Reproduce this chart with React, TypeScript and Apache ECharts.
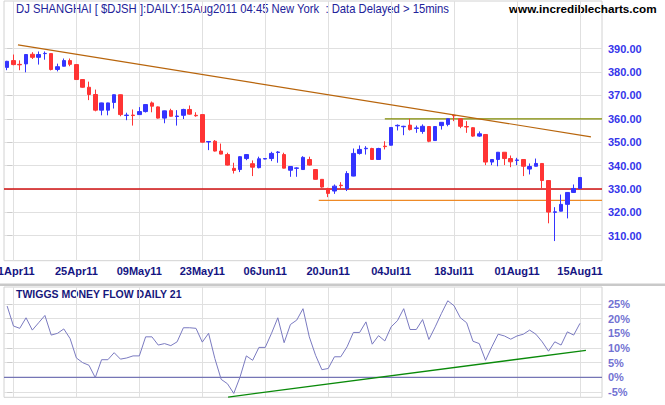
import React, { useEffect, useRef } from 'react';
import * as echarts from 'echarts';

const MONTHS = ['Jan', 'Feb', 'Mar', 'Apr', 'May', 'Jun', 'Jul', 'Aug', 'Sep', 'Oct', 'Nov', 'Dec'];

// Weekday calendar from 8 Apr 2011 to 15 Aug 2011
function tradingDays(): string[] {
  const out: string[] = [];
  const d = new Date(Date.UTC(2011, 3, 8));
  const end = Date.UTC(2011, 7, 15);
  while (d.getTime() <= end) {
    const wd = d.getUTCDay();
    if (wd !== 0 && wd !== 6) {
      const dd = String(d.getUTCDate()).padStart(2, '0');
      out.push(dd + MONTHS[d.getUTCMonth()] + '11');
    }
    d.setUTCDate(d.getUTCDate() + 1);
  }
  return out;
}

const dateLabels = tradingDays();
const categories = [...dateLabels, '', '', ''];
const labelIdx = [1, 11, 21, 31, 41, 51, 61, 71, 81, 91];
const priceTicks = [310, 320, 330, 340, 350, 360, 370, 380, 390];
const tmfTicks = [-5, 0, 5, 10, 15, 20, 25];

// [open, close, low, high]
const candles: number[][] = [
  [382.0, 384.6, 380.8, 384.8], [384.9, 383.2, 382.9, 387.5], [383.3, 383.1, 380.8, 385.0],
  [383.5, 387.5, 379.9, 387.7], [387.6, 386.3, 385.6, 388.5], [386.3, 387.5, 383.2, 388.8],
  [387.9, 388.0, 385.3, 388.8], [387.9, 381.1, 380.7, 388.0], [381.1, 382.3, 380.3, 383.6],
  [382.5, 384.9, 382.4, 385.8], [384.9, 383.3, 382.5, 385.8], [383.2, 376.8, 376.6, 383.3],
  [376.8, 373.5, 373.3, 377.0], [373.5, 370.4, 368.0, 375.9], [370.4, 363.7, 363.2, 372.5],
  [363.7, 366.8, 361.5, 366.9], [363.7, 366.8, 361.5, 366.9], [367.0, 370.3, 364.4, 370.4],
  [370.3, 361.8, 361.1, 370.4], [361.4, 361.6, 359.4, 362.6], [361.6, 361.4, 357.1, 364.0],
  [361.8, 363.1, 361.7, 365.0], [363.1, 366.1, 362.7, 366.2], [366.8, 365.4, 362.8, 367.4],
  [365.1, 360.3, 360.1, 365.3], [360.3, 363.4, 358.1, 363.5], [363.5, 361.1, 360.9, 364.3],
  [361.0, 361.2, 357.1, 363.7], [361.5, 364.0, 359.9, 364.3], [364.0, 362.0, 361.8, 365.7],
  [361.5, 361.3, 360.9, 362.8], [361.8, 350.0, 349.8, 362.0], [350.1, 350.3, 346.6, 350.4],
  [350.4, 346.2, 346.0, 350.9], [346.2, 344.9, 344.8, 349.4], [344.7, 340.2, 340.0, 345.5],
  [338.8, 337.9, 336.6, 341.2], [338.3, 343.8, 337.2, 344.0], [343.0, 344.7, 342.3, 344.9],
  [340.8, 339.3, 335.5, 342.2], [339.1, 342.9, 338.8, 343.8], [342.8, 343.0, 342.7, 343.2],
  [343.0, 345.2, 341.9, 345.9], [345.6, 345.8, 341.2, 346.2], [344.7, 338.9, 338.8, 345.5],
  [338.0, 339.6, 335.2, 339.7], [338.8, 339.0, 335.2, 339.3], [338.3, 343.5, 338.2, 344.0],
  [342.6, 340.2, 340.0, 343.8], [338.3, 334.1, 334.0, 338.4], [334.1, 330.8, 330.5, 334.2],
  [330.1, 328.1, 326.5, 330.5], [329.1, 331.2, 327.9, 331.9], [331.6, 331.4, 330.1, 332.9],
  [330.1, 336.6, 329.1, 337.6], [335.5, 345.2, 335.4, 347.3], [345.2, 346.9, 344.7, 348.6],
  [347.2, 347.4, 344.7, 348.3], [347.3, 342.6, 342.5, 347.6], [342.6, 347.3, 342.5, 347.6],
  [348.3, 348.1, 346.9, 350.4], [348.7, 356.3, 348.6, 356.4], [357.0, 357.2, 355.0, 357.6],
  [356.6, 356.8, 353.0, 357.0], [357.3, 355.4, 355.0, 360.0], [355.9, 356.1, 354.0, 357.1],
  [354.6, 356.8, 353.6, 357.6], [356.7, 350.4, 350.0, 356.8], [350.7, 356.7, 350.6, 356.8],
  [357.1, 358.5, 355.4, 358.6], [357.6, 360.0, 356.8, 360.1], [361.5, 361.3, 359.0, 361.8],
  [360.0, 356.8, 356.0, 360.1], [356.7, 356.5, 354.0, 359.0], [356.2, 352.6, 352.3, 356.4],
  [352.6, 353.6, 352.3, 354.6], [353.3, 341.5, 340.2, 353.4], [341.5, 342.6, 340.2, 342.7],
  [342.6, 345.7, 339.7, 345.8], [345.7, 343.0, 340.2, 345.8], [343.0, 341.6, 339.3, 344.3],
  [342.2, 342.4, 340.2, 343.3], [342.6, 339.7, 335.5, 342.7], [338.5, 339.6, 336.2, 340.9],
  [339.7, 340.9, 339.6, 343.0], [340.9, 333.6, 330.1, 341.0], [333.6, 320.1, 315.3, 333.7],
  [320.0, 320.2, 307.7, 322.2], [320.5, 323.4, 320.4, 327.6], [323.4, 328.5, 317.4, 328.6],
  [328.5, 330.2, 328.4, 331.9], [330.2, 334.9, 330.1, 335.0],
];

const tmf: number[] = [
  24.3, 17.5, 16.7, 20.3, 16.1, 18.6, 21.1, 14.4, 15.0, 16.5,
  13.2, 6.6, 5.0, 4.1, -0.1, 6.0, 6.0, 8.4, 6.2, 6.6,
  7.3, 7.3, 13.8, 13.8, 11.0, 11.5, 10.8, 12.1, 16.9, 16.9,
  16.7, 12.0, 15.0, 6.4, -0.7, -2.2, -5.5, 0.1, 7.3, 5.8,
  10.2, 10.2, 15.0, 20.3, 11.8, 18.0, 19.5, 23.4, 13.8, 7.5,
  2.6, 3.0, 7.0, 7.0, 10.4, 15.3, 15.3, 18.9, 11.3, 14.2,
  12.4, 17.2, 19.3, 23.4, 16.3, 16.3, 19.7, 12.9, 17.2, 21.8,
  26.1, 24.4, 20.3, 18.6, 12.3, 11.5, 5.8, 10.4, 14.7, 14.1,
  13.0, 14.1, 14.7, 16.1, 14.7, 12.1, 8.9, 12.1, 11.0, 15.5,
  14.4, 18.4,
];

// Drawn lines, [index, value]
const priceTrend = [[1.72, 391.6], [92.75, 352.3]];
const line330 = [[-0.5, 330], [94.5, 330]];
const line325 = [[49.5, 325.1], [94.5, 325.1]];
const line360 = [[60.0, 360], [94.5, 360]];
const zeroLine = [[-0.5, 0], [94.5, 0]];
const tmfTrend = [[35.1, -6.75], [91.95, 9.2]];

const FONT = 'Liberation Sans, Arial, sans-serif';
const GRID_COLOR = '#e0e0e0';

function lineSeries(data: number[][], color: string, width: number, xi: number, yi: number, z = 3) {
  return {
    type: 'line', xAxisIndex: xi, yAxisIndex: yi, data, symbol: 'none', silent: true, z,
    lineStyle: { color, width }, emphasis: { disabled: true },
  };
}

export default function App() {
  const ref = useRef<HTMLDivElement>(null);
  useEffect(() => {
    document.body.style.margin = '0';
    if (!ref.current) return;
    const chart = echarts.init(ref.current, null, { renderer: 'svg' });
    const option: any = {
      animation: false,
      backgroundColor: '#ffffff',
      grid: [
        { left: 4, right: 63, top: 1, height: 259.7, show: true, borderColor: '#d2d2d2', borderWidth: 1, containLabel: false, outerBoundsMode: 'none' },
        { left: 4, right: 63, top: 287, height: 110.3, show: true, borderColor: '#d2d2d2', borderWidth: 1, containLabel: false, outerBoundsMode: 'none' },
      ],
      xAxis: [
        { type: 'category', gridIndex: 0, data: categories, show: false, boundaryGap: true },
        {
          type: 'value', gridIndex: 0, min: -0.5, max: 94.5, position: 'bottom',
          axisLine: { show: false },
          axisTick: { show: false, customValues: labelIdx },
          axisLabel: {
            customValues: labelIdx, formatter: (v: number) => dateLabels[Math.round(v)] ?? '',
            color: '#141482', fontWeight: 'bold', fontSize: 11, fontFamily: FONT, margin: 5,
          },
          splitLine: { show: true, lineStyle: { color: GRID_COLOR, width: 1 } },
        },
        {
          type: 'value', gridIndex: 1, min: -0.5, max: 94.5,
          axisLine: { show: false },
          axisTick: { show: false, customValues: labelIdx },
          axisLabel: { show: false, customValues: labelIdx },
          splitLine: { show: true, lineStyle: { color: GRID_COLOR, width: 1 } },
        },
      ],
      yAxis: [
        {
          type: 'value', gridIndex: 0, position: 'right', min: 299.3, max: 410.4,
          axisLine: { show: false },
          axisTick: { show: true, length: 5, customValues: priceTicks, lineStyle: { color: '#cccccc' } },
          axisLabel: {
            customValues: priceTicks, formatter: (v: number) => v.toFixed(2),
            color: '#3535ea', fontWeight: 'bold', fontSize: 11, fontFamily: FONT, margin: 6,
          },
          splitLine: { show: true, lineStyle: { color: GRID_COLOR, width: 1 } },
        },
        {
          type: 'value', gridIndex: 1, position: 'right', min: -6.82, max: 30.8,
          axisLine: { show: false },
          axisTick: { show: true, length: 5, customValues: tmfTicks, lineStyle: { color: '#cccccc' } },
          axisLabel: {
            customValues: tmfTicks, formatter: (v: number) => v + '%',
            color: '#7272d2', fontWeight: 'bold', fontSize: 11, fontFamily: FONT, margin: 6,
          },
          splitLine: { show: true, lineStyle: { color: GRID_COLOR, width: 1 } },
        },
      ],
      series: [
        lineSeries(line330, '#d01010', 1.5, 1, 0, 1),
        lineSeries(line325, '#ee8a26', 1.2, 1, 0, 1),
        lineSeries(line360, '#7f8a00', 1.2, 1, 0, 1),
        {
          type: 'candlestick', xAxisIndex: 0, yAxisIndex: 0, data: candles, barWidth: 4, z: 2,
          itemStyle: { color: '#3434ff', color0: '#ff3434', borderColor: '#3434ff', borderColor0: '#ff3434', borderWidth: 1 },
          emphasis: { disabled: true },
        },
        lineSeries(priceTrend, '#b8650c', 1.2, 1, 0, 3),
        lineSeries(zeroLine, '#7575b5', 1.3, 2, 1, 1),
        lineSeries(tmf.map((v, i) => [i, v]), '#7a7ac0', 1, 2, 1, 2),
        lineSeries(tmfTrend, '#0a8a0a', 1.3, 2, 1, 3),
      ],
      graphic: [
        { type: 'rect', shape: { x: 0, y: 283.5, width: 665, height: 2.5 }, style: { fill: '#c9c9c9' }, silent: true },
        {
          type: 'text', x: 16, y: 8.5, scaleX: 0.94, silent: true,
          style: { text: 'DJ SHANGHAI [ $DJSH ]:DAILY:15Aug2011 04:45 New York  : Data Delayed > 15mins', fill: '#22229a', font: '12px ' + FONT, textVerticalAlign: 'middle' },
        },
        {
          type: 'text', x: 509, y: 8.5, silent: true,
          style: { text: 'www.incrediblecharts.com', fill: '#000000', font: 'bold 11.7px ' + FONT, textVerticalAlign: 'middle' },
        },
        {
          type: 'text', x: 16, y: 293.5, silent: true,
          style: { text: 'TWIGGS MONEY FLOW DAILY 21', fill: '#17177c', font: 'bold 10.5px ' + FONT, textVerticalAlign: 'middle' },
        },
      ],
    };
    chart.setOption(option);
    return () => chart.dispose();
  }, []);
  return <div ref={ref} style={{ position: 'absolute', left: 0, top: 0, width: 665, height: 405 }} />;
}
